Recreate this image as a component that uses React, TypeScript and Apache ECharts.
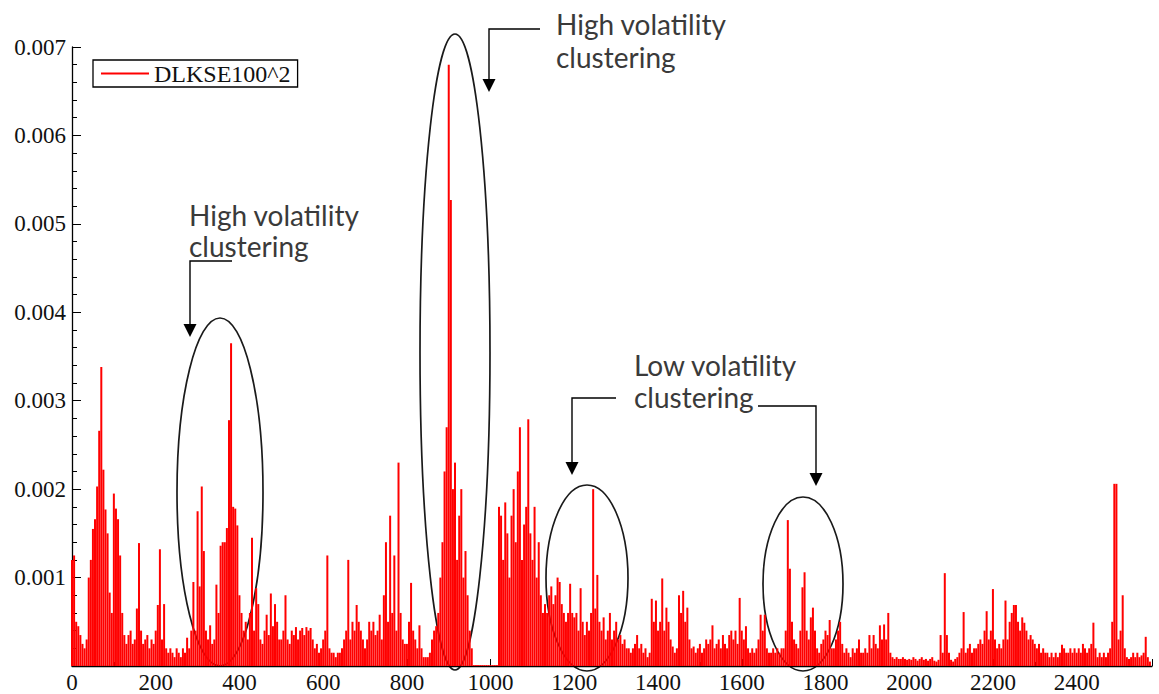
import React, { useEffect, useRef } from "react";
import * as echarts from "echarts";

// Squared returns, one value every STEP observations, in units of 1e-4
const STEP = 5;
const SCALE = 1e-4;

const obs0to495 = [
  12, 12.5, 5, 4.5, 3.5, 2.5, 2, 3, 10, 12, 15.5, 16.6, 20.3, 26.6, 33.8, 22.2, 17.7, 15, 8.3, 6,
  19.5, 17.8, 16.6, 12.5, 6, 3.5, 2.5, 3.5, 4, 2.5, 3, 6.5, 13.9, 4, 2.5, 3, 3.5, 2, 3, 2.5,
  4, 6.9, 13.2, 3, 7, 2, 1.5, 2, 1.5, 1, 2, 1.5, 1, 2, 1.5, 3.2, 2, 4, 9.5, 4,
  17.5, 9, 20.3, 13, 4, 3, 4.6, 2.5, 3, 9.2, 6, 13.6, 14, 14, 15.6, 27.8, 36.5, 18, 17.8, 15.9,
  8, 6, 4, 5, 3, 6, 14.5, 4, 8.8, 7, 3, 2.5, 4, 5.8, 3.5, 8.2, 4.5, 7, 5, 3,
];
const obs500to995 = [
  3, 4, 8, 3, 2.5, 4, 3.5, 4.4, 3, 4, 4.3, 3.5, 4.4, 4, 4.3, 3, 2, 2.5, 1.5, 2,
  3, 4, 12.5, 2, 1.5, 1.5, 1, 1.5, 1.5, 2, 3, 4, 12, 3, 5, 4, 6.9, 5, 4, 3,
  2, 3, 5, 4, 5, 3.5, 4, 5.8, 3, 8, 14, 5, 17, 6, 12.5, 4, 23, 6, 3, 2.5,
  2.5, 5, 9.4, 4, 3, 2, 4.6, 2, 1, 1, 1, 1.5, 3, 4, 4.5, 6, 10, 14, 22, 27,
  68, 52.7, 20, 23, 12, 17, 20, 10, 13, 8, 4, 2, 0.1, 0.1, 0.1, 0.1, 0.1, 0.1, 0.1, 0.1,
];
const obs1000to1495 = [
  0.1, 0.1, 0.1, 0.1, 18, 17, 12, 18.5, 15, 10, 17, 20, 14, 22, 27, 12, 16, 18, 27.9, 15,
  12, 18, 10, 14, 8, 6, 7, 6, 8, 9, 7, 8, 10, 9.5, 7, 6, 5, 6, 9.3, 6,
  5.5, 6, 4, 8.8, 5, 3.5, 5, 4, 6, 20, 6.5, 10.3, 5, 4, 5.5, 3, 4, 6, 3, 4,
  5, 3, 3.5, 2.5, 3, 2, 2, 1.5, 2, 2.5, 3.5, 2, 2.5, 1.5, 2, 1, 1.5, 7.6, 5, 7.4,
  4, 5, 9.9, 4, 6.6, 5, 3, 2.2, 1.5, 2, 8, 6, 8.5, 5, 6.6, 3, 2, 2.2, 1.5, 2,
];
const obs1500to1995 = [
  2.5, 1.5, 2, 3, 2.5, 3, 4.6, 2, 2.5, 3, 2, 3.5, 2.5, 2, 3.5, 4, 3, 4, 2.5, 7.7,
  4, 3, 4.5, 2, 1.5, 2, 1.5, 2, 3, 5.8, 4, 5.8, 2, 1.5, 1.5, 2, 1.5, 2, 1.5, 2,
  2, 4, 16.5, 11, 5, 3, 2.5, 2, 4, 8.9, 10.6, 4, 3, 5.5, 6.6, 4, 2, 1.5, 2.5, 3,
  4, 3.5, 5.2, 2, 2, 3, 4, 5, 2.5, 1.5, 2, 1.5, 1, 2, 1.5, 2, 3, 1.5, 1.5, 2,
  1.5, 3.5, 2, 3.5, 2.5, 2, 4.6, 3, 4.7, 3, 6, 1.5, 1, 0.8, 1, 0.8, 0.8, 1, 0.8, 0.7,
];
const obs2000to2575 = [
  0.8, 0.7, 1, 0.8, 0.6, 0.8, 1, 0.7, 0.8, 0.6, 0.8, 1, 0.6, 0.5, 0.7, 3.5, 1.5, 10.5, 3.5, 1.5,
  0.7, 0.5, 0.8, 1, 1.5, 2, 6.1, 1.5, 2, 2.5, 1.5, 2, 2, 2.5, 3, 2.5, 4, 6.2, 3, 4,
  8.7, 3, 2, 2.5, 2, 3, 7.4, 3, 5, 6, 6.9, 6.9, 5, 4, 5.5, 4.9, 4, 3, 3.5, 3,
  2.5, 2, 2.5, 1.5, 2, 1.5, 1.5, 1, 1.5, 1, 1.5, 1, 1.5, 2.4, 2, 1.5, 1.5, 2, 1.5, 2,
  1.5, 2, 1.5, 2.5, 2, 1.5, 2, 2.5, 4.9, 2, 1, 1.5, 1, 1.5, 1, 1.5, 2, 5, 20.6, 20.6,
  3, 4, 8, 2, 1, 0.8, 1, 1.5, 1, 1.5, 1, 1.2, 1.5, 3.3, 1, 0.5,
];

const seriesName = "DLKSE100^2";
const xTickLabels = [0, 200, 400, 600, 800, 1000, 1200, 1400, 1600, 1800, 2000, 2200, 2400];
const yTickLabels = [0.001, 0.002, 0.003, 0.004, 0.005, 0.006, 0.007];

const allObs = [...obs0to495, ...obs500to995, ...obs1000to1495, ...obs1500to1995, ...obs2000to2575];

const ANN_FONT = "Lato, 'Open Sans', sans-serif";
const ANN_COLOR = "#3a3a3a";
const SERIF = "'Liberation Serif', 'DejaVu Serif', serif";

function arrow(points: number[][], tip: number[]) {
  const [tx, ty] = tip;
  return [
    {
      type: "polyline",
      shape: { points },
      style: { stroke: "#000", lineWidth: 1.4, fill: "none" },
      silent: true,
    },
    {
      type: "polygon",
      shape: { points: [[tx - 6.5, ty - 13], [tx + 6.5, ty - 13], [tx, ty]] },
      style: { fill: "#000" },
      silent: true,
    },
  ];
}

function label(x: number, y: number, text: string) {
  return {
    type: "text",
    x,
    y,
    style: {
      text,
      fill: ANN_COLOR,
      font: `28px ${ANN_FONT}`,
      textVerticalAlign: "middle",
      verticalAlign: "middle",
    },
    silent: true,
  };
}

function ellipse(cx: number, cy: number, rx: number, ry: number) {
  return {
    type: "ellipse",
    shape: { cx, cy, rx, ry },
    style: { stroke: "#1a1a1a", lineWidth: 1.7, fill: "none" },
    silent: true,
  };
}

export default function App() {
  const ref = useRef<HTMLDivElement>(null);
  useEffect(() => {
    if (!ref.current) return;
    const chart = echarts.init(ref.current, undefined, { renderer: "svg" });
    const data = allObs.map((v, i) => [i * STEP, v * SCALE]);
    chart.setOption({
      animation: false,
      backgroundColor: "#fff",
      grid: { left: 72, right: 7, top: 47, bottom: 24, containLabel: false },
      legend: {
        show: true,
        left: 93,
        top: 60,
        data: [seriesName],
        icon: "rect",
        itemWidth: 48,
        itemHeight: 2,
        padding: [1, 7, 1, 8],
        borderColor: "#000",
        borderWidth: 1.3,
        backgroundColor: "#fff",
        textStyle: {
          fontFamily: SERIF,
          fontSize: 24,
          color: "#111",
          lineHeight: 25,
        },
      },
      xAxis: {
        type: "value",
        min: 0,
        max: 2580,
        interval: 200,
        axisLine: { show: true, lineStyle: { color: "#000", width: 1.3 } },
        axisTick: { show: true, inside: true, length: 7, lineStyle: { color: "#000" } },
        minorTick: { show: true, splitNumber: 2, length: 4, lineStyle: { color: "#000" } },
        splitLine: { show: false },
        axisLabel: {
          showMaxLabel: false,
          margin: 5,
          fontFamily: SERIF,
          fontSize: 23,
          color: "#111",
          formatter: (v: number) => (xTickLabels.includes(v) ? String(v) : ""),
        },
      },
      yAxis: {
        type: "value",
        min: 0,
        max: 0.007,
        interval: 0.001,
        axisLine: { show: true, lineStyle: { color: "#000", width: 1.3 } },
        axisTick: { show: true, inside: true, length: 9, lineStyle: { color: "#000" } },
        minorTick: { show: true, splitNumber: 5, length: 5, lineStyle: { color: "#000" } },
        splitLine: { show: false },
        axisLabel: {
          margin: 6,
          fontFamily: SERIF,
          fontSize: 23,
          color: "#111",
          formatter: (v: number) => {
            const m = yTickLabels.find((t) => Math.abs(t - v) < 1e-9);
            return m === undefined ? "" : m.toFixed(3);
          },
        },
      },
      series: [
        {
          name: seriesName,
          type: "bar",
          data,
          barWidth: 2,
          itemStyle: { color: "#ff0000" },
          emphasis: { disabled: true },
        },
      ],
      graphic: [
        ellipse(220, 492, 43, 174),
        ellipse(455, 352, 35, 318),
        ellipse(587, 578, 41, 93),
        ellipse(803, 584, 40, 87),
        label(189, 215, "High volatility"),
        label(189, 246, "clustering"),
        label(556, 24, "High volatility"),
        label(556, 57, "clustering"),
        label(634, 365, "Low volatility"),
        label(634, 397, "clustering"),
        ...arrow([[232, 261], [190, 261], [190, 326]], [190, 337]),
        ...arrow([[540, 29], [489, 29], [489, 81]], [489, 92]),
        ...arrow([[616, 398], [572, 398], [572, 464]], [572, 475]),
        ...arrow([[758, 406], [816, 406], [816, 475]], [816, 486]),
      ],
    });
    return () => chart.dispose();
  }, []);
  return (
    <div
      ref={ref}
      style={{ position: "fixed", left: 0, top: 0, width: 1159, height: 694, background: "#fff" }}
    />
  );
}
